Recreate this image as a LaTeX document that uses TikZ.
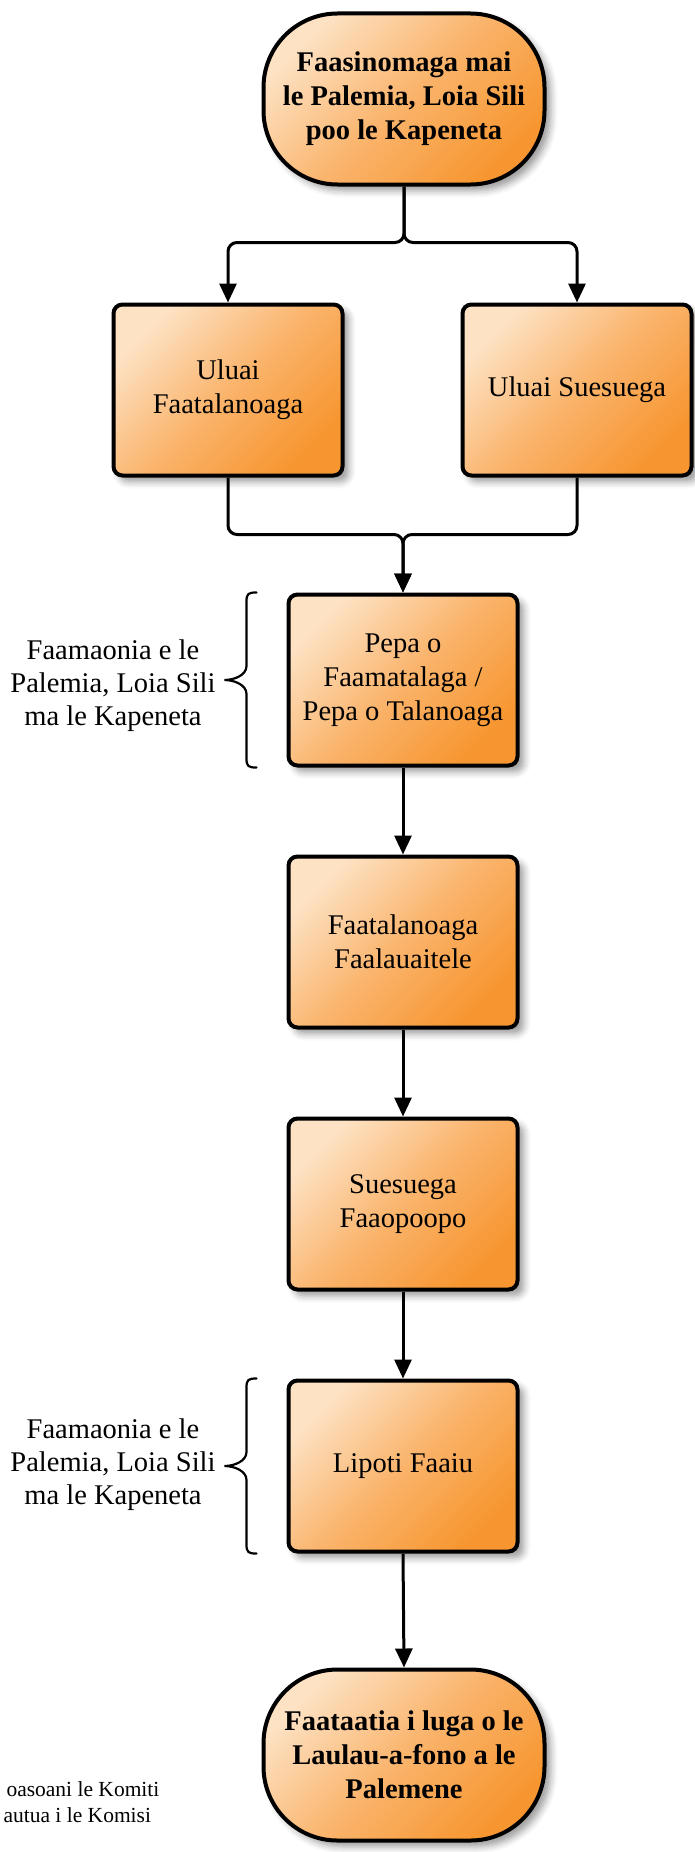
\documentclass[tikz,border=0pt]{standalone}
\usepackage{fontspec}
\setmainfont{Liberation Serif}
\usetikzlibrary{arrows.meta,shadows.blur,calc}
\definecolor{boxlight}{RGB}{253,226,196}
\definecolor{boxmid}{RGB}{250,180,108}
\definecolor{boxdark}{RGB}{247,150,48}
\begin{document}
\begin{tikzpicture}[x=1pt,y=-1pt,
  box/.style={draw=black, line width=4pt, rounded corners=9pt,
    minimum width=229pt, minimum height=171pt, align=center,
    font=\fontsize{28.5}{34}\selectfont,
    top color=boxlight, bottom color=boxdark, middle color=boxmid, shading angle=45,
    blur shadow={shadow xshift=6pt, shadow yshift=-6pt, shadow blur radius=7pt, shadow opacity=40}},
  term/.style={box, rounded corners=74pt, minimum width=281pt,
    font=\bfseries\fontsize{28.5}{34}\selectfont},
  conn/.style={line width=3pt, rounded corners=9pt},
  arr/.style={conn, -{Triangle[length=19pt,width=17pt]}},
  side/.style={align=center, font=\fontsize{28.5}{33}\selectfont},
  note/.style={anchor=base west, font=\fontsize{21.5}{26}\selectfont},
  brc/.style={line width=2.2pt, line cap=round}
]
\useasboundingbox (0,0) rectangle (695,1852);

\node[term] (top) at (404,99) {Faasinomaga mai\\le Palemia, Loia Sili\\poo le Kapeneta};
\node[box] (b1) at (228,390) {Uluai\\Faatalanoaga};
\node[box] (b2) at (577,390) {Uluai Suesuega};
\node[box] (pepa) at (403,680) {Pepa o\\Faamatalaga /\\Pepa o Talanoaga};
\node[box] (fa) at (403,942) {Faatalanoaga\\Faalauaitele};
\node[box] (su) at (403,1204) {Suesuega\\Faaopoopo};
\node[box] (li) at (403,1466) {Lipoti Faaiu};
\node[term] (bot) at (404,1755) {Faataatia i luga o le\\Laulau-a-fono a le\\Palemene};

\node[side] (lab1) at (113,686) {Faamaonia e le\\Palemia, Loia Sili\\ma le Kapeneta};
\node[side] (lab2) at (113,1465) {Faamaonia e le\\Palemia, Loia Sili\\ma le Kapeneta};

\node[note] (n1) at (3,1796) {oasoani le Komiti};
\node[note] (n2) at (0,1822) {autua i le Komisi};

\draw[arr] (top.south) -- ++(0,56) -| (b1.north);
\draw[arr] (top.south) -- ++(0,56) -| (b2.north);
\coordinate (j) at ($(pepa.north)+(0,-58)$);
\draw[arr] (b1.south) |- (j) -- (pepa.north);
\draw[arr] (b2.south) |- (j) -- (pepa.north);
\draw[arr] (pepa.south) -- (fa.north);
\draw[arr] (fa.south) -- (su.north);
\draw[arr] (su.south) -- (li.north);
\draw[arr] (li.south) -- (bot.north);

% braces
\foreach \n in {pepa,li}{
  \coordinate (bt) at ($(\n.north west)+(-30,0)$);
  \coordinate (bb) at ($(\n.south west)+(-30,0)$);
  \coordinate (bm) at ($(\n.west)+(-62,0)$);
  \draw[brc] (bt) .. controls ++(-8,0) and ++(0,-8) .. ++(-10,9)
     -- ($(bm)+(22,-14)$) .. controls ++(0,9) and ++(10,0) .. (bm)
     .. controls ++(10,0) and ++(0,-9) .. ($(bm)+(22,14)$)
     -- ($(bb)+(-10,-9)$) .. controls ++(0,8) and ++(-8,0) .. (bb);
}
\end{tikzpicture}
\end{document}
